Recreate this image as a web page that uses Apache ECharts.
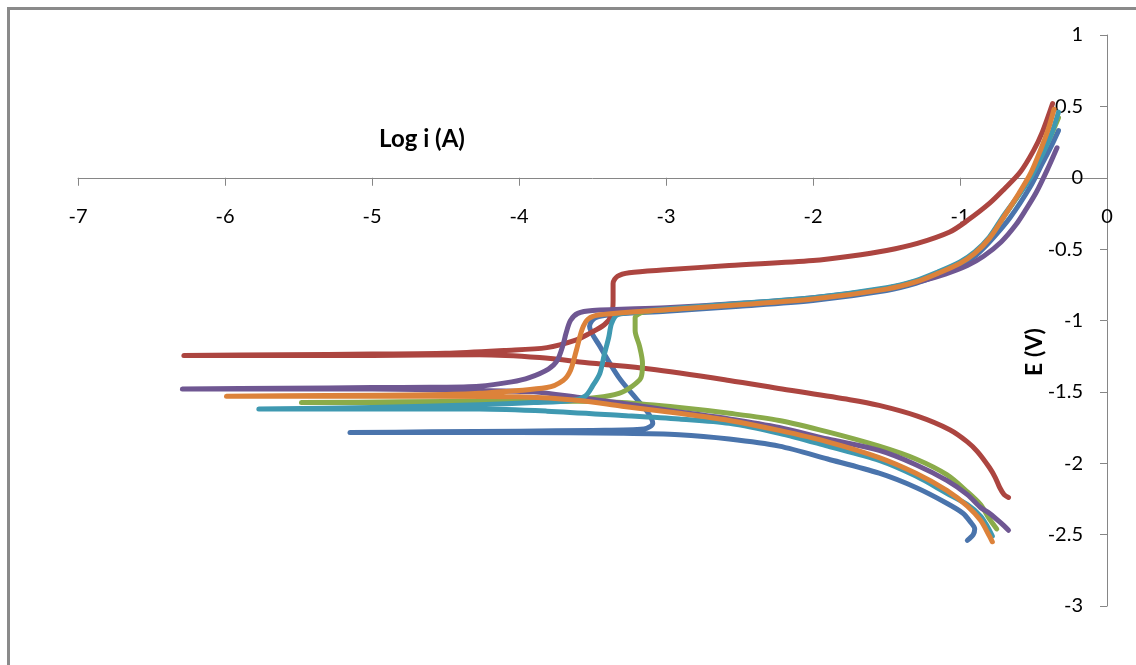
<!DOCTYPE html>
<html>
<head>
<meta charset="utf-8">
<script src="https://cdn.jsdelivr.net/npm/echarts@6/dist/echarts.min.js"></script>
<style>
  html, body { margin: 0; padding: 0; background: #fff; }
  #chart { width: 1136px; height: 665px; }
</style>
</head>
<body>
<div id="chart"></div>
<script>
// Polarization curves: each path is [log i (A), E (V)] in scan order
const curve1 = [
  [-0.95,-2.54],[-0.91,-2.50],[-0.90,-2.46],[-0.93,-2.41],[-0.98,-2.35],[-1.09,-2.28],[-1.30,-2.17],
  [-1.55,-2.07],[-1.90,-1.97],[-2.23,-1.88],[-2.57,-1.83],[-2.91,-1.80],[-3.30,-1.79],[-4.00,-1.785],
  [-4.60,-1.785],[-5.15,-1.785],[-4.60,-1.78],[-4.00,-1.775],[-3.50,-1.77],[-3.15,-1.76],[-3.09,-1.72],
  [-3.12,-1.65],[-3.20,-1.55],[-3.32,-1.40],[-3.45,-1.18],[-3.52,-1.04],[-3.48,-0.98],[-3.35,-0.955],
  [-3.00,-0.935],[-2.50,-0.90],[-2.00,-0.86],[-1.50,-0.79],[-1.30,-0.74],[-1.15,-0.685],[-1.00,-0.62],
  [-0.90,-0.55],[-0.80,-0.45],[-0.66,-0.28],[-0.52,-0.06],[-0.44,0.10],[-0.38,0.22],[-0.33,0.33]
];
const curve2 = [
  [-0.67,-2.24],[-0.70,-2.22],[-0.73,-2.17],[-0.76,-2.10],[-0.80,-2.03],[-0.88,-1.92],[-0.95,-1.85],
  [-1.07,-1.765],[-1.29,-1.67],[-1.55,-1.595],[-1.75,-1.555],[-2.21,-1.48],[-2.57,-1.42],[-3.11,-1.34],
  [-3.50,-1.30],[-3.86,-1.26],[-4.27,-1.24],[-5.00,-1.245],[-5.60,-1.245],[-6.28,-1.245],[-5.60,-1.24],
  [-5.00,-1.235],[-4.50,-1.23],[-4.10,-1.21],[-3.81,-1.19],[-3.62,-1.14],[-3.52,-1.09],[-3.42,-1.03],
  [-3.37,-0.96],[-3.36,-0.86],[-3.36,-0.74],[-3.33,-0.69],[-3.25,-0.665],[-3.00,-0.645],[-2.57,-0.615],
  [-2.00,-0.58],[-1.75,-0.55],[-1.50,-0.51],[-1.29,-0.46],[-1.07,-0.38],[-0.95,-0.30],[-0.80,-0.18],
  [-0.70,-0.08],[-0.59,0.04],[-0.50,0.19],[-0.44,0.32],[-0.37,0.52]
];
const curve3 = [
  [-0.75,-2.46],[-0.80,-2.39],[-0.86,-2.29],[-0.95,-2.20],[-1.09,-2.08],[-1.30,-1.97],[-1.55,-1.88],
  [-1.90,-1.78],[-2.23,-1.70],[-2.57,-1.65],[-2.91,-1.61],[-3.30,-1.575],[-3.60,-1.565],[-4.20,-1.57],
  [-4.80,-1.575],[-5.48,-1.575],[-4.80,-1.57],[-4.20,-1.565],[-3.70,-1.555],[-3.47,-1.54],[-3.32,-1.51],
  [-3.23,-1.46],[-3.17,-1.40],[-3.16,-1.30],[-3.18,-1.18],[-3.21,-1.07],[-3.21,-0.98],[-3.15,-0.94],
  [-3.00,-0.925],[-2.50,-0.885],[-2.00,-0.845],[-1.50,-0.775],[-1.30,-0.725],[-1.15,-0.665],[-1.00,-0.595],
  [-0.90,-0.525],[-0.80,-0.42],[-0.70,-0.27],[-0.60,-0.12],[-0.52,0.01],[-0.45,0.15],[-0.38,0.30],[-0.33,0.42]
];
const curve4 = [
  [-0.67,-2.47],[-0.72,-2.42],[-0.80,-2.35],[-0.86,-2.31],[-0.95,-2.22],[-1.09,-2.12],[-1.30,-2.01],
  [-1.55,-1.91],[-1.90,-1.83],[-2.23,-1.75],[-2.57,-1.69],[-2.91,-1.64],[-3.30,-1.58],[-3.59,-1.54],
  [-3.90,-1.50],[-4.30,-1.49],[-5.00,-1.48],[-5.60,-1.48],[-6.29,-1.48],[-5.60,-1.475],[-5.00,-1.47],
  [-4.60,-1.468],[-4.27,-1.46],[-4.05,-1.43],[-3.93,-1.40],[-3.80,-1.34],[-3.74,-1.28],[-3.70,-1.17],
  [-3.68,-1.09],[-3.65,-1.00],[-3.60,-0.95],[-3.50,-0.93],[-3.00,-0.91],[-2.50,-0.88],[-2.00,-0.84],
  [-1.50,-0.775],[-1.25,-0.72],[-1.10,-0.675],[-0.95,-0.615],[-0.84,-0.55],[-0.72,-0.45],[-0.62,-0.33],
  [-0.55,-0.22],[-0.48,-0.10],[-0.40,0.07],[-0.34,0.21]
];
const curve5 = [
  [-0.78,-2.51],[-0.81,-2.45],[-0.86,-2.37],[-0.95,-2.29],[-1.09,-2.21],[-1.30,-2.09],[-1.55,-1.98],
  [-1.90,-1.88],[-2.23,-1.79],[-2.57,-1.72],[-2.91,-1.69],[-3.30,-1.665],[-3.81,-1.635],[-4.27,-1.62],
  [-5.00,-1.62],[-5.77,-1.62],[-5.00,-1.61],[-4.27,-1.59],[-3.90,-1.575],[-3.64,-1.56],[-3.55,-1.53],
  [-3.50,-1.46],[-3.45,-1.37],[-3.42,-1.24],[-3.39,-1.12],[-3.37,-1.02],[-3.33,-0.96],[-3.20,-0.94],
  [-3.00,-0.92],[-2.50,-0.88],[-2.00,-0.84],[-1.50,-0.77],[-1.30,-0.72],[-1.15,-0.66],[-1.00,-0.59],
  [-0.90,-0.52],[-0.80,-0.415],[-0.70,-0.26],[-0.60,-0.12],[-0.52,0.00],[-0.45,0.14],[-0.38,0.30],[-0.33,0.46]
];
const curve6 = [
  [-0.78,-2.55],[-0.80,-2.51],[-0.86,-2.40],[-0.95,-2.30],[-1.09,-2.19],[-1.30,-2.07],[-1.55,-1.96],
  [-1.90,-1.85],[-2.23,-1.77],[-2.57,-1.70],[-2.91,-1.65],[-3.30,-1.60],[-3.59,-1.56],[-4.00,-1.535],
  [-4.60,-1.53],[-5.30,-1.53],[-5.99,-1.53],[-5.30,-1.525],[-4.60,-1.52],[-4.27,-1.51],[-3.81,-1.47],
  [-3.70,-1.42],[-3.65,-1.35],[-3.61,-1.21],[-3.57,-1.06],[-3.53,-0.99],[-3.45,-0.96],[-3.00,-0.925],
  [-2.50,-0.89],[-2.00,-0.85],[-1.50,-0.78],[-1.30,-0.73],[-1.15,-0.67],[-1.00,-0.60],[-0.90,-0.53],
  [-0.80,-0.425],[-0.70,-0.27],[-0.60,-0.11],[-0.52,0.03],[-0.45,0.20],[-0.40,0.34],[-0.36,0.48]
];

const curves = [curve1, curve2, curve3, curve4, curve5, curve6];
const palette = ['#4A74AC', '#AC4540', '#8AAB4A', '#6F5792', '#3F99B1', '#DC823A'];

const xAxisName = 'Log i (A)';
const yAxisName = 'E (V)';

const axisGray = '#868686';
const labelFont = 'Lato';

// plot area
const W = 1136, H = 665;
const gridLeft = 78, gridRight = 29, gridTop = 35, gridBottom = 59;
const yMin = -3, yMax = 1;
// the horizontal axis sits on E = 0: shift it up from the bottom edge of the grid
const plotH = H - gridTop - gridBottom;
const zeroFromBottom = plotH * (0 - yMin) / (yMax - yMin);

const chart = echarts.init(document.getElementById('chart'), null, { renderer: 'canvas' });

chart.setOption({
  animation: false,
  backgroundColor: '#ffffff',
  grid: { left: gridLeft, right: gridRight, top: gridTop, bottom: gridBottom },
  xAxis: {
    type: 'value',
    min: -7,
    max: 0,
    interval: 1,
    position: 'bottom',
    offset: -zeroFromBottom,
    axisLine: { show: true, onZero: false, lineStyle: { color: axisGray, width: 1 } },
    axisTick: { show: true, length: 8, lineStyle: { color: axisGray } },
    axisLabel: {
      margin: 29, color: '#000', fontFamily: labelFont, fontSize: 20,
      showMinLabel: true, showMaxLabel: true
    },
    splitLine: { show: false }
  },
  yAxis: {
    type: 'value',
    min: yMin,
    max: yMax,
    interval: 0.5,
    position: 'right',
    axisLine: { show: true, onZero: false, lineStyle: { color: axisGray, width: 1 } },
    axisTick: { show: true, inside: true, length: 7, lineStyle: { color: axisGray } },
    axisLabel: {
      inside: true, margin: 24, color: '#000', fontFamily: labelFont, fontSize: 20,
      showMinLabel: true, showMaxLabel: true
    },
    splitLine: { show: false }
  },
  graphic: [
    {
      type: 'rect', silent: true, z: 100,
      shape: { x: 8.5, y: 8.5, width: 1400, height: 900 },
      style: { fill: 'transparent', stroke: '#8a8a8a', lineWidth: 3 }
    },
    {
      type: 'text', x: 422, y: 139, z: 100,
      style: { text: xAxisName, font: 'bold 24px Lato', fill: '#000', align: 'center', verticalAlign: 'middle' }
    },
    {
      type: 'text', x: 1035, y: 352, rotation: Math.PI / 2, z: 100,
      style: { text: yAxisName, font: 'bold 23px Lato', fill: '#000', align: 'center', verticalAlign: 'middle' }
    }
  ],
  series: curves.map((d, i) => ({
    type: 'line',
    data: d,
    showSymbol: false,
    smooth: 0.3,
    z: 2 + i,
    lineStyle: { width: 5, color: palette[i], cap: 'round', join: 'round' }
  }))
});
</script>
</body>
</html>
